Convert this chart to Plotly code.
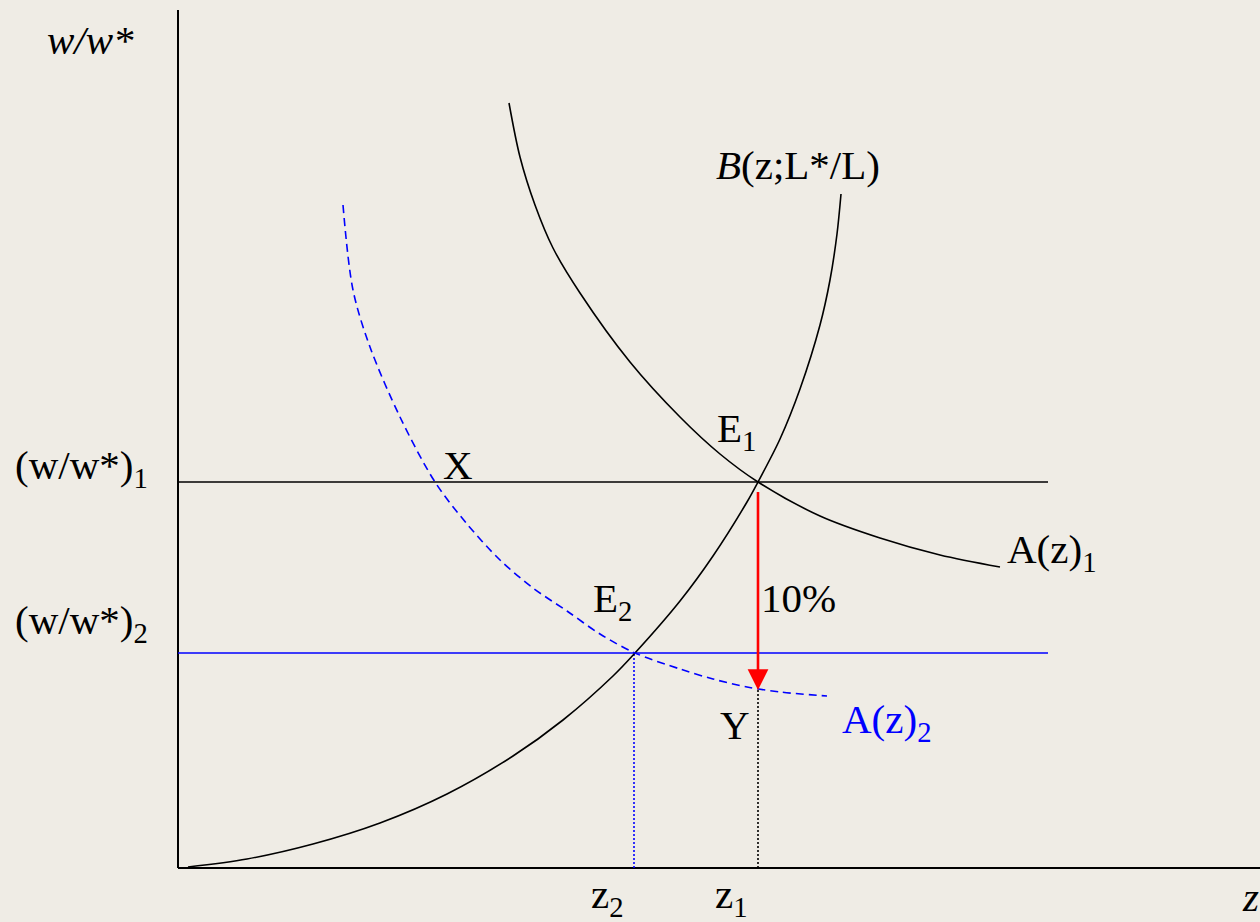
import plotly.graph_objects as go

# Curves (z, w/w*)
a1_z = [3.31, 3.42, 3.57, 3.75, 4.02, 4.52, 5.02, 5.42, 5.80, 6.42, 7.02, 7.62, 8.22]
a1_w = [7.65, 7.11, 6.63, 6.20, 5.75, 5.06, 4.51, 4.14, 3.86, 3.52, 3.30, 3.13, 3.01]

b_z = [0.10, 0.69, 1.35, 2.02, 2.69, 3.35, 3.85, 4.35, 4.57, 5.02, 5.35, 5.69, 5.80, 6.02, 6.22, 6.42, 6.52, 6.59, 6.63]
b_w = [0.01, 0.09, 0.24, 0.45, 0.74, 1.12, 1.48, 1.92, 2.15, 2.67, 3.12, 3.66, 3.86, 4.29, 4.79, 5.43, 5.88, 6.34, 6.74]

a2_z = [1.65, 1.75, 1.92, 2.22, 2.57, 2.89, 3.22, 3.55, 3.89, 4.22, 4.57, 5.02, 5.35, 5.69, 6.02, 6.49]
a2_w = [6.63, 5.78, 5.21, 4.51, 3.86, 3.44, 3.08, 2.80, 2.57, 2.34, 2.15, 1.99, 1.89, 1.81, 1.76, 1.72]

w1, w2 = 3.86, 2.15
z1, z2 = 5.80, 4.56
y_point = 1.78
h_end = 8.70
x_axis_end, y_axis_end = 10.82, 8.58

BG = "#EFECE5"
FONT = "Liberation Serif"
FS = 41

fig = go.Figure()

def line(x, y, color="black", width=1.6, dash="solid", shape="spline"):
    fig.add_trace(go.Scatter(x=x, y=y, mode="lines", hoverinfo="skip",
                             line=dict(color=color, width=width, dash=dash, shape=shape, smoothing=0.9)))

# axes
line([0, 0], [0, y_axis_end], width=2, shape="linear")
line([0, x_axis_end], [0, 0], width=2, shape="linear")
# horizontal levels
line([0, h_end], [w1, w1], width=1.6, shape="linear")
line([0, h_end], [w2, w2], color="#0000FF", width=1.6, shape="linear")
# vertical guides
line([z2, z2], [0, w2], color="#0000FF", width=1.6, dash="2px,2px", shape="linear")
line([z1, z1], [0, y_point], color="black", width=1.6, dash="2px,2px", shape="linear")
# curves
line(a1_z, a1_w)
line(b_z, b_w)
line(a2_z, a2_w, color="#0000FF", dash="8px,5px")

annotations = []
# red arrow
annotations.append(dict(x=z1, y=y_point, ax=z1, ay=w1, xref="x", yref="y", axref="x", ayref="y",
                        showarrow=True, arrowhead=2, arrowsize=1.6, arrowwidth=2.6,
                        arrowcolor="#FF0000", text=" "))

def label(text, x, y, color="black", xanchor="left"):
    annotations.append(dict(x=x, y=y, xref="x", yref="y", text=text, showarrow=False,
                            xanchor=xanchor, yanchor="middle",
                            font=dict(family=FONT, size=FS, color=color)))

label("<i>w/w*</i>", -0.88, 8.28, xanchor="center")
label("(w/w*)<sub>1</sub>", -1.65, 4.00)
label("(w/w*)<sub>2</sub>", -1.65, 2.45)
label("z<sub>2</sub>", 4.11, -0.29)
label("z<sub>1</sub>", 5.35, -0.29)
label("<i>z</i>", 10.62, -0.29)
label("<i>B</i>(z;L*/L)", 5.36, 7.03)
label("E<sub>1</sub>", 5.37, 4.37)
label("X", 2.63, 4.03)
label("E<sub>2</sub>", 4.13, 2.67)
label("10%", 5.81, 2.70)
label("Y", 5.40, 1.43)
label("A(z)<sub>1</sub>", 8.27, 3.16)
label("A(z)<sub>2</sub>", 6.62, 1.46, color="#0000FF")

fig.update_layout(
    width=1260, height=922,
    margin=dict(l=0, r=0, t=0, b=0),
    paper_bgcolor=BG, plot_bgcolor=BG,
    showlegend=False,
    xaxis=dict(range=[-1.78, 10.82], visible=False, fixedrange=True),
    yaxis=dict(range=[-0.54, 8.68], visible=False, fixedrange=True),
    annotations=annotations,
)

fig.write_html("out.html", config={"displayModeBar": False},
               post_script="document.body.style.margin='0';document.body.style.overflow='hidden';document.body.style.background='#EFECE5';")
